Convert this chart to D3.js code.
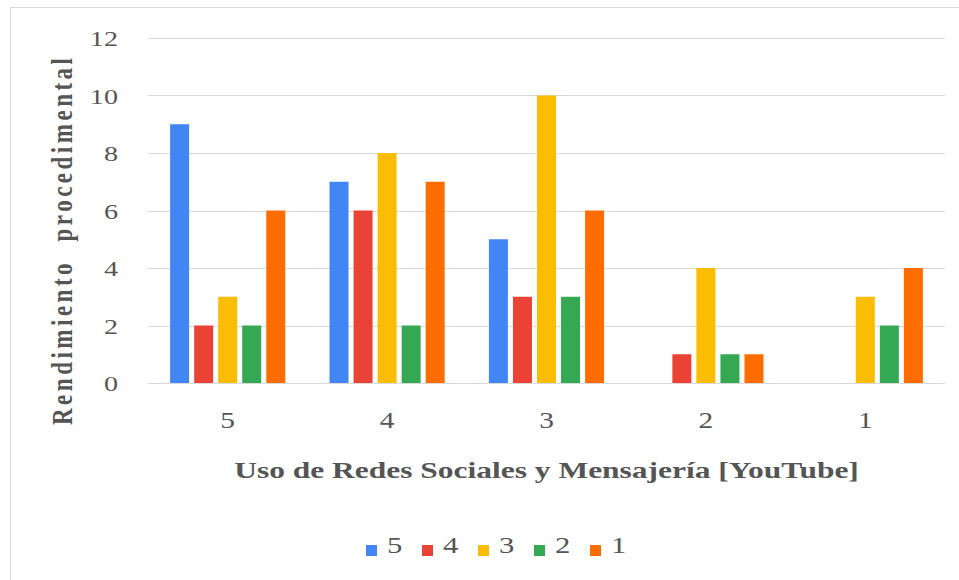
<!DOCTYPE html>
<html>
<head>
<meta charset="utf-8">
<script src="https://cdn.jsdelivr.net/npm/d3@7"></script>
<style>
  html, body { margin: 0; padding: 0; background: #fff; }
  svg { display: block; }
</style>
</head>
<body>
<svg id="chart" width="959" height="580"></svg>
<script>
// ---- data ----
const categories = ["5", "4", "3", "2", "1"];
const seriesNames = ["5", "4", "3", "2", "1"];
const seriesColors = ["#4285F4", "#EA4335", "#FBBC04", "#34A853", "#FF6D01"];
const s5 = [9, 7, 5, 0, 0];
const s4 = [2, 6, 3, 1, 0];
const s3 = [3, 8, 10, 4, 3];
const s2 = [2, 2, 3, 1, 2];
const s1 = [6, 7, 6, 1, 4];
const seriesValues = [s5, s4, s3, s2, s1];
const yTicks = [0, 2, 4, 6, 8, 10, 12];
const yTitle = "Rendimiento  procedimental";
const xTitle = "Uso de Redes Sociales y Mensajería [YouTube]";

// ---- layout ----
const svg = d3.select("#chart");
const mLeft = 148, mRight = 945, mTop = 38, mBottom = 383;
const SX = 1.28; // horizontal stretch of text in the reference
const textColor = "#555555";
const font = "'Liberation Serif', 'Times New Roman', serif";

// frame
svg.append("rect").attr("x", 10.5).attr("y", 7.5).attr("width", 960).attr("height", 580)
  .attr("fill", "none").attr("stroke", "#d9d9d9").attr("stroke-width", 1);

const y = d3.scaleLinear().domain([0, 12]).range([mBottom, mTop]);
const x0 = d3.scaleBand().domain(categories).range([mLeft, mRight]).padding(0);
const x1 = d3.scaleBand().domain(seriesNames).range([0, x0.bandwidth()])
  .paddingInner(0.21).paddingOuter(0.92);
const color = d3.scaleOrdinal().domain(seriesNames).range(seriesColors);

// gridlines
svg.append("g").selectAll("line").data(yTicks).join("line")
  .attr("x1", mLeft).attr("x2", mRight)
  .attr("y1", d => Math.round(y(d)) + 0.5).attr("y2", d => Math.round(y(d)) + 0.5)
  .attr("stroke", "#d9d9d9").attr("stroke-width", 1);

// y tick labels
svg.append("g").selectAll("text").data(yTicks).join("text")
  .attr("transform", d => `translate(118,${y(d) + 3}) scale(${SX},1)`)
  .attr("text-anchor", "end").attr("dominant-baseline", "middle")
  .attr("font-family", font).attr("font-size", 22).attr("fill", textColor)
  .text(d => d);

// bars
const rows = [];
categories.forEach((c, ci) => {
  seriesNames.forEach((s, si) => {
    rows.push({ cat: c, series: s, value: seriesValues[si][ci] });
  });
});
svg.append("g").selectAll("rect").data(rows.filter(d => d.value > 0)).join("rect")
  .attr("x", d => x0(d.cat) + x1(d.series))
  .attr("width", x1.bandwidth())
  .attr("y", d => y(d.value))
  .attr("height", d => y(0) - y(d.value))
  .attr("fill", d => color(d.series));

// x tick labels
svg.append("g").selectAll("text").data(categories).join("text")
  .attr("transform", d => `translate(${x0(d) + x0.bandwidth() / 2},${423}) scale(${SX},1)`)
  .attr("text-anchor", "middle").attr("dominant-baseline", "middle")
  .attr("font-family", font).attr("font-size", 23).attr("fill", textColor)
  .text(d => d);

// x title
svg.append("text")
  .attr("transform", `translate(${(mLeft + mRight) / 2},478) scale(${SX},1)`)
  .attr("text-anchor", "middle")
  .attr("font-family", font).attr("font-size", 24).attr("font-weight", "bold")
  .attr("fill", textColor)
  .attr("textLength", 488).attr("lengthAdjust", "spacingAndGlyphs")
  .text(xTitle);

// y title
svg.append("text")
  .attr("transform", `translate(72,241.5) scale(${SX},1) rotate(-90)`)
  .attr("text-anchor", "middle")
  .attr("font-family", font).attr("font-size", 23).attr("font-weight", "bold")
  .attr("fill", textColor)
  .attr("textLength", 367).attr("lengthAdjust", "spacing")
  .style("white-space", "pre")
  .text(yTitle);

// legend
const legend = svg.append("g");
const lg = legend.selectAll("g").data(seriesNames).join("g")
  .attr("transform", (d, i) => `translate(${366 + i * 56},0)`);
lg.append("rect").attr("x", 0).attr("y", 545).attr("width", 11).attr("height", 11)
  .attr("fill", d => color(d));
lg.append("text")
  .attr("transform", `translate(21,547) scale(${SX},1)`)
  .attr("dominant-baseline", "middle")
  .attr("font-family", font).attr("font-size", 24).attr("fill", textColor)
  .text(d => d);
</script>
</body>
</html>
